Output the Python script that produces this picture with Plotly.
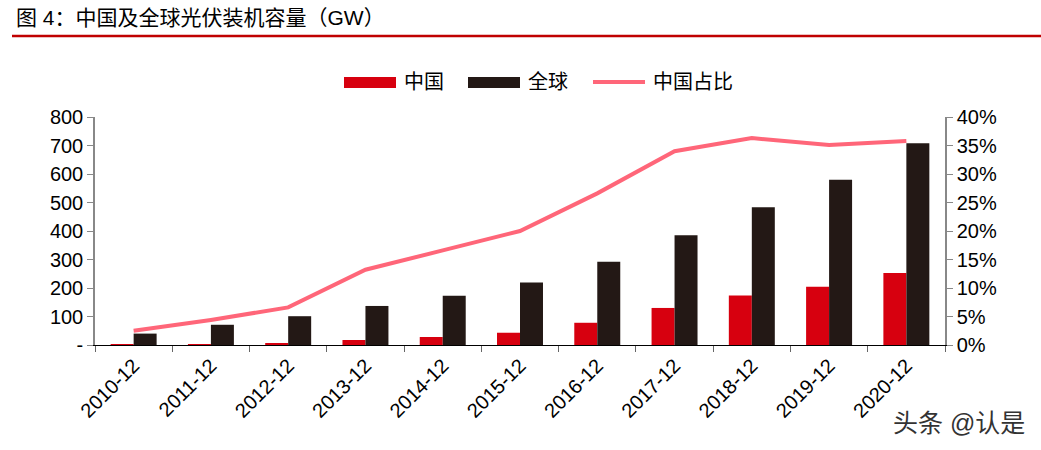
import plotly.graph_objects as go

categories = ["2010-12", "2011-12", "2012-12", "2013-12", "2014-12", "2015-12",
              "2016-12", "2017-12", "2018-12", "2019-12", "2020-12"]
china_gw = [0.9, 3.3, 6.5, 17.5, 28, 43, 78, 130, 174, 204, 253]
global_gw = [40, 71, 101, 137, 173, 219, 292, 385, 483, 580, 708]
china_share = [0.025, 0.044, 0.066, 0.132, 0.166, 0.200, 0.266, 0.340, 0.363, 0.351, 0.358]

left_ticks = [0, 100, 200, 300, 400, 500, 600, 700, 800]
left_ticktext = ["-", "100", "200", "300", "400", "500", "600", "700", "800"]

RED = "#D7000F"
BLACK = "#231815"
PINK = "#FF6679"
FONT = "Liberation Sans, Arial, Noto Sans CJK SC, sans-serif"

W, H = 1041, 450
OFF = 0  # page body margin removed via post_script
# plot area target in screen pixels
SX0, SX1, SY0, SY1 = 95, 945, 117, 345
L, T = SX0 - OFF, SY0 - OFF
R = W - (SX1 - OFF)
B = H - (SY1 - OFF)
PW, PH = SX1 - SX0, SY1 - SY0


def px(x):
    return (x - SX0) / PW


def py(y):
    return (SY1 - y) / PH


fig = go.Figure()
fig.add_trace(go.Bar(x=categories, y=china_gw, name="中国", marker_color=RED,
                     marker_line_width=0))
fig.add_trace(go.Bar(x=categories, y=global_gw, name="全球", marker_color=BLACK,
                     marker_line_width=0))
fig.add_trace(go.Scatter(x=categories, y=china_share, name="中国占比", yaxis="y2",
                         mode="lines", line=dict(color=PINK, width=4)))

shapes = [
    # title underline
    dict(type="line", xref="paper", yref="paper", x0=px(12), x1=px(1041),
         y0=py(36), y1=py(36), line=dict(color="#C00000", width=2.5)),
    # legend swatches
    dict(type="rect", xref="paper", yref="paper", x0=px(344), x1=px(396),
         y0=py(77), y1=py(88), fillcolor=RED, line_width=0),
    dict(type="rect", xref="paper", yref="paper", x0=px(468), x1=px(520),
         y0=py(77), y1=py(88), fillcolor=BLACK, line_width=0),
    dict(type="line", xref="paper", yref="paper", x0=px(593), x1=px(645),
         y0=py(82), y1=py(82), line=dict(color=PINK, width=4)),
]

annotations = [
    dict(text="中国", x=px(402), y=py(82), xref="paper", yref="paper",
         xanchor="left", yanchor="middle", showarrow=False,
         font=dict(size=20, color="#000")),
    dict(text="全球", x=px(526), y=py(82), xref="paper", yref="paper",
         xanchor="left", yanchor="middle", showarrow=False,
         font=dict(size=20, color="#000")),
    dict(text="中国占比", x=px(651), y=py(82), xref="paper", yref="paper",
         xanchor="left", yanchor="middle", showarrow=False,
         font=dict(size=20, color="#000")),
    dict(text="头条 @认是", x=px(1027), y=py(423), xref="paper", yref="paper",
         xanchor="right", yanchor="middle", showarrow=False,
         font=dict(size=25, color="#333")),
]

fig.update_layout(
    width=W, height=H,
    margin=dict(l=L, r=R, t=T, b=B, autoexpand=False),
    paper_bgcolor="white", plot_bgcolor="white",
    font=dict(family=FONT, size=20, color="#000"),
    showlegend=False,
    barmode="group", bargap=0.405, bargroupgap=0,
    title=dict(text="图 4：中国及全球光伏装机容量（GW）", x=(16 - OFF) / W, xanchor="left",
               y=1 - (18 - OFF) / H, yanchor="middle", font=dict(size=21, color="#000")),
    xaxis=dict(type="category", showline=True, linecolor="#000", linewidth=1,
               ticks="outside", ticklen=6, tickcolor="#666", tickson="boundaries",
               tickangle=-45, tickfont=dict(size=20), showgrid=False,
               automargin=False),
    yaxis=dict(range=[0, 800], tickvals=left_ticks, ticktext=left_ticktext,
               showline=True, linecolor="#888", linewidth=1.5, ticks="outside",
               ticklen=6, tickcolor="#888", showgrid=False, zeroline=False,
               tickfont=dict(size=20), automargin=False),
    yaxis2=dict(range=[0, 0.4], dtick=0.05, tickformat=".0%", overlaying="y",
                side="right", showline=True, linecolor="#888", linewidth=1.5,
                ticks="outside", ticklen=6, tickcolor="#888", showgrid=False,
                zeroline=False, tickfont=dict(size=20), automargin=False),
    shapes=shapes,
    annotations=annotations,
)

fig.write_html("out.html", config={"displayModeBar": False},
               post_script="document.body.style.margin='0';document.body.style.overflow='hidden';")
